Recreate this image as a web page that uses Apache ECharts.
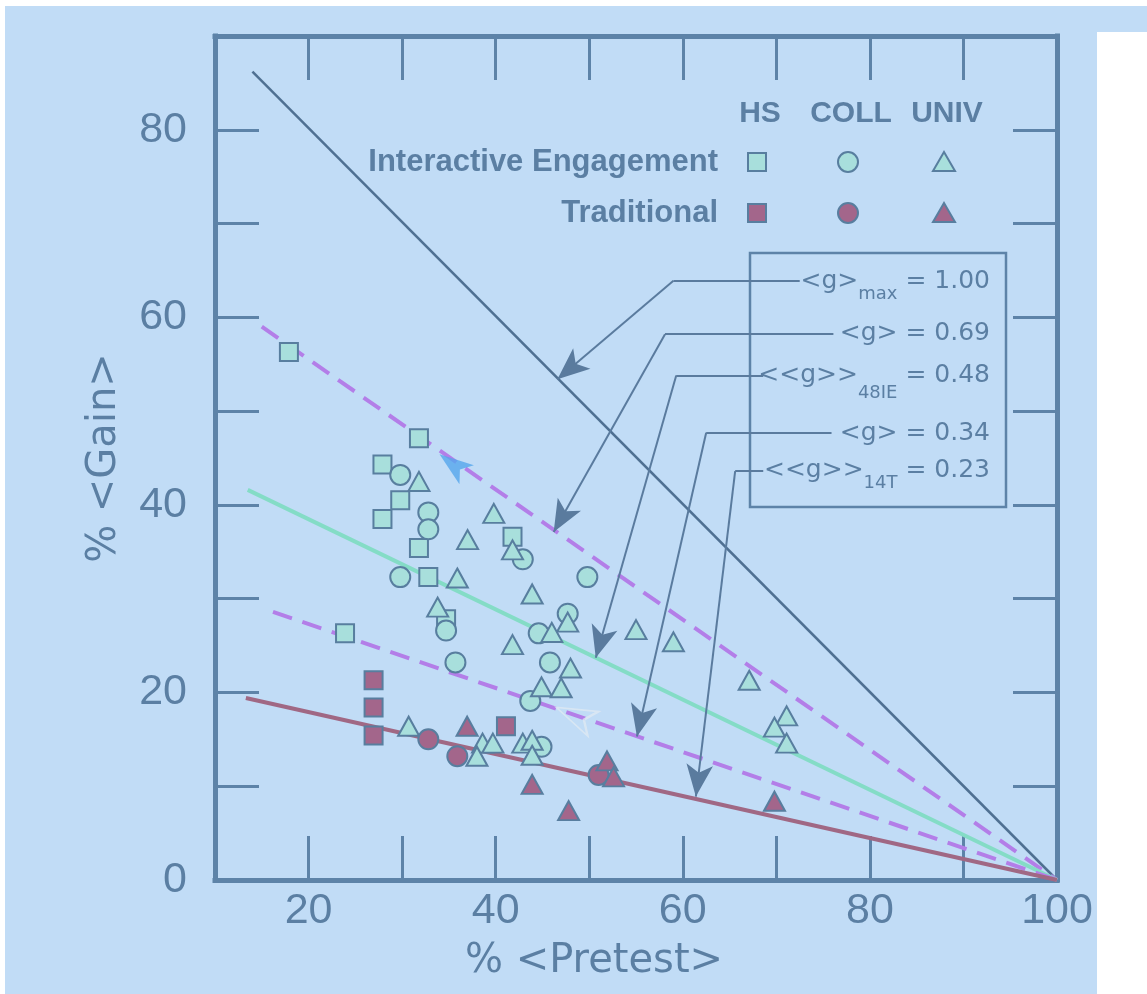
<!DOCTYPE html>
<html>
<head>
<meta charset="utf-8">
<script src="https://cdn.jsdelivr.net/npm/echarts@6/dist/echarts.min.js"></script>
<style>
html, body { margin: 0; padding: 0; background: #ffffff; }
#bg { position: absolute; left: 5px; top: 6px; width: 1142px; height: 988px; background: #c1dcf6; }
#cut { position: absolute; left: 1097px; top: 32px; width: 50px; height: 962px; background: #ffffff; }
#chart { position: absolute; left: 0; top: 0; width: 1147px; height: 994px; }
</style>
</head>
<body>
<div id="bg"></div><div id="cut"></div>
<div id="chart"></div>
<script>
// values: [% pretest, % gain]
var ieHS = [[17.9, 56.3], [31.8, 47.1], [27.9, 44.3], [29.8, 40.5], [27.9, 38.5], [31.8, 35.4],
    [32.8, 32.3], [41.8, 36.6], [34.7, 27.8], [23.9, 26.3]];
var ieColl = [[29.8, 43.2], [32.8, 39.2], [32.8, 37.4], [29.8, 32.3], [42.9, 34.2], [49.8, 32.3],
    [34.7, 26.6], [44.6, 26.3], [47.7, 28.4], [35.7, 23.2], [45.8, 23.2], [43.7, 19.1], [44.9, 14.2]];
var ieUniv = [[31.8, 42.5], [39.8, 39.1], [37.0, 36.3], [35.9, 32.2], [33.8, 29.1], [43.9, 30.5],
    [41.8, 35.2], [47.7, 27.5], [46.0, 26.4], [41.8, 25.1], [55.0, 26.7], [59.0, 25.4], [48.0, 22.6],
    [44.9, 20.6], [47.0, 20.5], [67.1, 21.3], [71.1, 17.5], [69.8, 16.3], [71.1, 14.6], [30.7, 16.4],
    [38.6, 14.6], [39.7, 14.6], [38.0, 13.2], [42.9, 14.6], [43.9, 14.9], [43.9, 13.3]];
var trHS = [[26.95, 21.3], [26.95, 18.4], [26.95, 15.4], [41.1, 16.4]];
var trColl = [[32.8, 15.0], [35.9, 13.2], [51.0, 11.2]];
var trUniv = [[36.95, 16.4], [43.9, 10.2], [47.8, 7.4], [51.9, 12.7], [52.6, 11.0], [69.8, 8.4]];

// constant-g lines, end points
var gMaxLine = [[14.0, 86.2], [100, 0]];
var g069Line = [[15.0, 59.0], [100, 0]];
var g048Line = [[13.5, 41.6], [100, 0]];
var g034Line = [[16.2, 28.6], [100, 0]];
var g023Line = [[13.3, 19.4], [100, 0]];

// leader arrows: start -> bend -> tip
var leadStart = [[72.5, 63.9], [76.1, 58.2], [68.6, 53.8], [75.9, 47.7], [68.6, 43.6]];
var leadBend = [[59.0, 63.9], [58.1, 58.2], [59.3, 53.8], [62.5, 47.7], [65.6, 43.6]];
var leadTip = [[46.6, 53.4], [46.2, 37.1], [50.7, 23.7], [55.1, 15.3], [61.4, 8.9]];

var blueArrow = [[34.0, 45.4]];
var paleArrow = [[46.5, 18.4]];

var xTicks = [20, 40, 60, 80, 100];
var yTicks = [0, 20, 40, 60, 80];

var legendCols = ['HS', 'COLL', 'UNIV'];
var legendRows = ['Interactive Engagement', 'Traditional'];
var boxLabels = [
    '{a|<g>}{s1|max}{a| = 1.00}',
    '{a|<g> = 0.69}',
    '{a|<<g>>}{s2|48IE}{a| = 0.48}',
    '{a|<g> = 0.34}',
    '{a|<<g>>}{s1|14T}{a| = 0.23}'
];

var axisColor = '#5d83a8';
var textColor = '#5b7fa3';
var ieFill = '#a8dfdc';
var trFill = '#a3668b';
var markEdge = '#587e9f';

var chart = echarts.init(document.getElementById('chart'));

function frameAxis(pos, isX, labels) {
    var ticks = isX ? xTicks : yTicks;
    return {
        type: 'value',
        position: pos,
        min: isX ? 10 : 0,
        max: isX ? 100 : 90,
        interval: 10,
        axisLine: { show: true, onZero: false, lineStyle: { color: axisColor, width: 5, cap: 'square' } },
        axisTick: { show: true, inside: true, length: 44, lineStyle: { color: axisColor, width: 3 } },
        axisLabel: {
            show: labels,
            color: textColor,
            fontFamily: 'Liberation Sans',
            fontSize: 43,
            margin: isX ? 10 : 28,
            formatter: function (v) { return ticks.indexOf(v) >= 0 ? String(v) : ''; }
        },
        splitLine: { show: false }
    };
}

function gLine(data, color, width, type) {
    return {
        type: 'line', data: data, showSymbol: false, silent: true, z: 3,
        lineStyle: { color: color, width: width, type: type }
    };
}

function points(data, symbol, size, fill) {
    return {
        type: 'scatter', data: data, symbol: symbol, symbolSize: size, silent: true, z: 4,
        itemStyle: { color: fill, borderColor: markEdge, borderWidth: 2, opacity: 1 }
    };
}

var horiz = [], diag = [];
for (var i = 0; i < leadStart.length; i++) {
    horiz.push({ coords: [leadStart[i], leadBend[i]] });
    diag.push({ coords: [leadBend[i], leadTip[i]] });
}

var xa = frameAxis('bottom', true, true);
xa.name = '% <Pretest>';
xa.nameLocation = 'middle';
xa.nameGap = 62;
xa.nameTextStyle = { color: textColor, fontFamily: 'DejaVu Sans', fontSize: 40, padding: [0, 84, 0, 0] };
var ya = frameAxis('left', false, true);
ya.name = '% <Gain>';
ya.nameLocation = 'middle';
ya.nameGap = 90;
ya.nameTextStyle = { color: textColor, fontFamily: 'DejaVu Sans', fontSize: 40 };

// legend grid and label box
var graphics = [];
var colX = [757, 848, 944], headY = 114, rowY = [162, 213];
legendCols.forEach(function (t, c) {
    graphics.push({ type: 'text', x: colX[c] + 3, y: headY, style: { text: t, fill: textColor,
        font: 'bold 30px "Liberation Sans"', textAlign: 'center', textVerticalAlign: 'middle' } });
});
legendRows.forEach(function (t, r) {
    graphics.push({ type: 'text', x: 718, y: rowY[r], style: { text: t, fill: textColor,
        font: 'bold 31px "Liberation Sans"', textAlign: 'right', textVerticalAlign: 'middle' } });
    var fill = r === 0 ? ieFill : trFill;
    var st = { fill: fill, stroke: markEdge, lineWidth: 2 };
    graphics.push({ type: 'rect', shape: { x: colX[0] - 9, y: rowY[r] - 9, width: 18, height: 18 }, style: st });
    graphics.push({ type: 'circle', shape: { cx: colX[1], cy: rowY[r], r: 10 }, style: st });
    graphics.push({ type: 'polygon', shape: { points: [[colX[2], rowY[r] - 10], [colX[2] + 11, rowY[r] + 9], [colX[2] - 11, rowY[r] + 9]] }, style: st });
});
graphics.push({ type: 'rect', shape: { x: 750, y: 253, width: 256, height: 254 },
    style: { fill: 'none', stroke: axisColor, lineWidth: 2.5 } });
var boxY = [281, 333, 375, 433, 470];
boxLabels.forEach(function (t, k) {
    graphics.push({ type: 'text', x: 990, y: boxY[k], style: {
        text: t, textAlign: 'right', textVerticalAlign: 'middle',
        rich: {
            a: { fill: textColor, font: '25px "DejaVu Sans"' },
            s1: { fill: textColor, font: '18px "DejaVu Sans"', padding: [26, 0, 0, 0] },
            s2: { fill: textColor, font: '18px "DejaVu Sans"', padding: [36, 0, 0, 0] }
        }
    } });
});

chart.setOption({
    animation: false,
    grid: { left: 215, top: 36, width: 842, height: 844 },
    xAxis: [xa, frameAxis('top', true, false)],
    yAxis: [ya, frameAxis('right', false, false)],
    graphic: graphics,
    series: [
        points(ieHS, 'rect', 18, ieFill),
        points(ieColl, 'circle', 20, ieFill),
        points(ieUniv, 'triangle', [21, 19], ieFill),
        points(trHS, 'rect', 18, trFill),
        points(trColl, 'circle', 20, trFill),
        points(trUniv, 'triangle', [21, 19], trFill),
        gLine(gMaxLine, '#4f7092', 2.5, 'solid'),
        gLine(g069Line, '#b37ee8', 4, [20, 11]),
        gLine(g048Line, '#84dcc6', 4, 'solid'),
        gLine(g034Line, '#b37ee8', 4, [20, 11]),
        gLine(g023Line, '#a06884', 4, 'solid'),
        {
            type: 'lines', coordinateSystem: 'cartesian2d', data: horiz, silent: true, z: 5,
            symbol: 'none', lineStyle: { color: '#5a7b9e', width: 2, opacity: 1 }
        },
        {
            type: 'lines', coordinateSystem: 'cartesian2d', data: diag, silent: true, z: 5,
            symbol: ['none', 'arrow'], symbolSize: [0, [20, 32]],
            lineStyle: { color: '#5a7b9e', width: 2, opacity: 1 }
        },
        {
            type: 'scatter', data: blueArrow, symbol: 'arrow', symbolSize: [18, 34], symbolRotate: 53,
            silent: true, z: 6, itemStyle: { color: '#55a6ec' }
        },
        {
            type: 'scatter', data: paleArrow, symbol: 'arrow', symbolSize: [20, 40], symbolRotate: 66,
            silent: true, z: 6, itemStyle: { color: 'rgba(0,0,0,0)', borderColor: '#dde9f3', borderWidth: 2 }
        }
    ]
});
</script>
</body>
</html>
